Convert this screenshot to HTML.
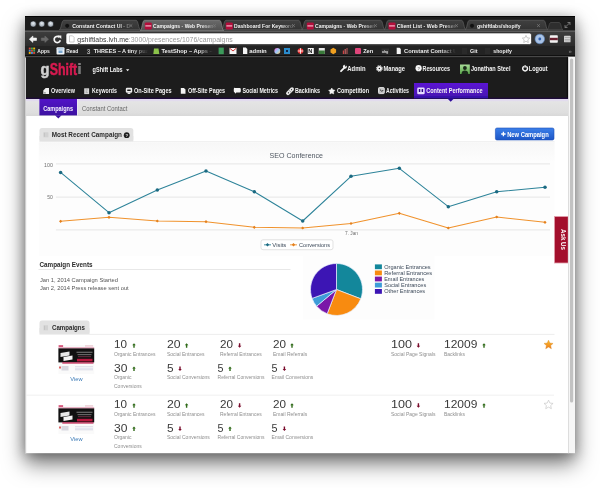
<!DOCTYPE html>
<html><head><meta charset="utf-8">
<style>
*{margin:0;padding:0}
html,body{width:600px;height:488px;overflow:hidden;background:#fff}
#win{position:absolute;left:25px;top:16px;width:550px;height:437.2px;background:#1c1c1c;box-shadow:0 11px 20px rgba(0,0,0,.5),0 2px 12px rgba(0,0,0,.3)}
svg{position:absolute;left:0;top:0;font-family:"Liberation Sans",sans-serif;will-change:transform}
</style></head><body>
<div id="win"></div>
<svg width="600" height="488" viewBox="0 0 600 488">
<defs>
<radialGradient id="tl" cx=".5" cy=".4" r=".6"><stop offset="0" stop-color="#e6ecf2"/><stop offset="1" stop-color="#8e98a4"/></radialGradient>
<linearGradient id="tabA" x1="0" y1="0" x2="0" y2="1"><stop offset="0" stop-color="#6a6a6a"/><stop offset="1" stop-color="#505050"/></linearGradient>
<linearGradient id="tabI" x1="0" y1="0" x2="0" y2="1"><stop offset="0" stop-color="#404040"/><stop offset="1" stop-color="#333"/></linearGradient>
<linearGradient id="toolG" x1="0" y1="0" x2="0" y2="1"><stop offset="0" stop-color="#3e3e3e"/><stop offset="1" stop-color="#2c2c2c"/></linearGradient>
<linearGradient id="purp" x1="0" y1="0" x2="0" y2="1"><stop offset="0" stop-color="#5b14d4"/><stop offset="1" stop-color="#4716b0"/></linearGradient>
<linearGradient id="purp2" x1="0" y1="0" x2="0" y2="1"><stop offset="0" stop-color="#5212c8"/><stop offset="1" stop-color="#3c12a0"/></linearGradient>
<linearGradient id="btn" x1="0" y1="0" x2="0" y2="1"><stop offset="0" stop-color="#3b7fe9"/><stop offset="1" stop-color="#1c55c6"/></linearGradient>
<linearGradient id="av" x1="0" y1="0" x2="0" y2="1"><stop offset="0" stop-color="#a8dc98"/><stop offset="1" stop-color="#5aa64a"/></linearGradient>
<linearGradient id="sg" x1="0" y1="0" x2="0" y2="1"><stop offset="0" stop-color="#fbc02c"/><stop offset="1" stop-color="#ee7a1c"/></linearGradient>
<linearGradient id="rainbow" x1="0" y1="0" x2="1" y2="1"><stop offset="0" stop-color="#f6c"/><stop offset=".5" stop-color="#9cf"/><stop offset="1" stop-color="#fc6"/></linearGradient>
<linearGradient id="subG" x1="0" y1="0" x2="0" y2="1"><stop offset="0" stop-color="#e6e6e6"/><stop offset=".8" stop-color="#dedede"/><stop offset="1" stop-color="#d8d8d8"/></linearGradient>
<linearGradient id="chbg" x1="0" y1="0" x2="0" y2="1"><stop offset="0" stop-color="#f7f7f7"/><stop offset="1" stop-color="#fdfdfd"/></linearGradient>
</defs>
<rect x="25.00" y="16.00" width="550.00" height="15.00" fill="#1c1c1c" />
<rect x="25.00" y="16.00" width="550.00" height="1.00" fill="#050505" />
<circle cx="33.2" cy="24" r="3.1" fill="url(#tl)" stroke="#111" stroke-width=".6"/>
<circle cx="41.8" cy="24" r="3.1" fill="url(#tl)" stroke="#111" stroke-width=".6"/>
<circle cx="50.6" cy="24" r="3.1" fill="url(#tl)" stroke="#111" stroke-width=".6"/>
<path d="M59.3 29.6C61.5 29.6 61.3 20.3 63.8 20.3L136.0 20.3C138.5 20.3 138.3 29.6 140.5 29.6Z" fill="url(#tabI)" stroke="#5e5e5e" stroke-width=".7"/>
<circle cx="67.2" cy="25.8" r="2.4" fill="#111" stroke="#444" stroke-width=".5"/>
<g mask="url(#fade140)">
<text x="72.20" y="28.20" font-size="6.10" fill="#f2f2f2" font-weight="bold" textLength="58.00" lengthAdjust="spacingAndGlyphs">Constant Contact UI - D</text>
</g>
<mask id="fade140" maskUnits="userSpaceOnUse" x="0" y="0" width="600" height="488"><rect x="0" y="0" width="600" height="488" fill="url(#fg140)"/></mask>
<linearGradient id="fg140" gradientUnits="userSpaceOnUse" x1="118.5" y1="0" x2="132.5" y2="0"><stop offset="0" stop-color="#fff"/><stop offset="1" stop-color="#000"/></linearGradient>
<path d="M129.7 24.3l2.6 2.6M132.3 24.3l-2.6 2.6" fill="none" stroke="#777" stroke-width=".9"/>
<path d="M221.5 29.6C223.7 29.6 223.5 20.3 226.0 20.3L298.5 20.3C301.0 20.3 300.8 29.6 303.0 29.6Z" fill="url(#tabI)" stroke="#5e5e5e" stroke-width=".7"/>
<rect x="225.80" y="22.40" width="7.00" height="7.00" fill="#b30f3c" rx="1.2"/>
<rect x="226.40" y="25.30" width="5.80" height="1.20" fill="#f3b7c8" />
<g mask="url(#fade303)">
<text x="234.00" y="28.20" font-size="6.10" fill="#f2f2f2" font-weight="bold" textLength="62.00" lengthAdjust="spacingAndGlyphs">Dashboard For Keywords</text>
</g>
<mask id="fade303" maskUnits="userSpaceOnUse" x="0" y="0" width="600" height="488"><rect x="0" y="0" width="600" height="488" fill="url(#fg303)"/></mask>
<linearGradient id="fg303" gradientUnits="userSpaceOnUse" x1="281.0" y1="0" x2="295.0" y2="0"><stop offset="0" stop-color="#fff"/><stop offset="1" stop-color="#000"/></linearGradient>
<path d="M292.2 24.3l2.6 2.6M294.8 24.3l-2.6 2.6" fill="none" stroke="#777" stroke-width=".9"/>
<path d="M301.5 29.6C303.7 29.6 303.5 20.3 306.0 20.3L380.5 20.3C383.0 20.3 382.8 29.6 385.0 29.6Z" fill="url(#tabI)" stroke="#5e5e5e" stroke-width=".7"/>
<rect x="306.80" y="22.40" width="7.00" height="7.00" fill="#b30f3c" rx="1.2"/>
<rect x="307.40" y="25.30" width="5.80" height="1.20" fill="#f3b7c8" />
<g mask="url(#fade385)">
<text x="315.00" y="28.20" font-size="6.10" fill="#f2f2f2" font-weight="bold" textLength="66.00" lengthAdjust="spacingAndGlyphs">Campaigns - Web Presence</text>
</g>
<mask id="fade385" maskUnits="userSpaceOnUse" x="0" y="0" width="600" height="488"><rect x="0" y="0" width="600" height="488" fill="url(#fg385)"/></mask>
<linearGradient id="fg385" gradientUnits="userSpaceOnUse" x1="363.0" y1="0" x2="377.0" y2="0"><stop offset="0" stop-color="#fff"/><stop offset="1" stop-color="#000"/></linearGradient>
<path d="M374.2 24.3l2.6 2.6M376.8 24.3l-2.6 2.6" fill="none" stroke="#777" stroke-width=".9"/>
<path d="M384.0 29.6C386.2 29.6 386.0 20.3 388.5 20.3L461.5 20.3C464.0 20.3 463.8 29.6 466.0 29.6Z" fill="url(#tabI)" stroke="#5e5e5e" stroke-width=".7"/>
<rect x="388.50" y="22.40" width="7.00" height="7.00" fill="#b30f3c" rx="1.2"/>
<rect x="389.10" y="25.30" width="5.80" height="1.20" fill="#f3b7c8" />
<g mask="url(#fade466)">
<text x="396.70" y="28.20" font-size="6.10" fill="#f2f2f2" font-weight="bold" textLength="66.00" lengthAdjust="spacingAndGlyphs">Client List - Web Presence</text>
</g>
<mask id="fade466" maskUnits="userSpaceOnUse" x="0" y="0" width="600" height="488"><rect x="0" y="0" width="600" height="488" fill="url(#fg466)"/></mask>
<linearGradient id="fg466" gradientUnits="userSpaceOnUse" x1="444.0" y1="0" x2="458.0" y2="0"><stop offset="0" stop-color="#fff"/><stop offset="1" stop-color="#000"/></linearGradient>
<path d="M455.2 24.3l2.6 2.6M457.8 24.3l-2.6 2.6" fill="none" stroke="#777" stroke-width=".9"/>
<path d="M465.0 29.6C467.2 29.6 467.0 20.3 469.5 20.3L543.5 20.3C546.0 20.3 545.8 29.6 548.0 29.6Z" fill="url(#tabI)" stroke="#5e5e5e" stroke-width=".7"/>
<circle cx="472.0" cy="25.8" r="2.4" fill="#111" stroke="#444" stroke-width=".5"/>
<g mask="url(#fade548)">
<text x="477.00" y="28.20" font-size="6.10" fill="#f2f2f2" font-weight="bold" textLength="43.50" lengthAdjust="spacingAndGlyphs">gshiftlabs/shopify</text>
</g>
<mask id="fade548" maskUnits="userSpaceOnUse" x="0" y="0" width="600" height="488"><rect x="0" y="0" width="600" height="488" fill="url(#fg548)"/></mask>
<linearGradient id="fg548" gradientUnits="userSpaceOnUse" x1="526.0" y1="0" x2="540.0" y2="0"><stop offset="0" stop-color="#fff"/><stop offset="1" stop-color="#000"/></linearGradient>
<path d="M537.2 24.3l2.6 2.6M539.8 24.3l-2.6 2.6" fill="none" stroke="#777" stroke-width=".9"/>
<path d="M140.0 31.0C142.2 31.0 142.0 20.3 144.5 20.3L219.5 20.3C222.0 20.3 221.8 31.0 224.0 31.0Z" fill="url(#tabA)" stroke="#8a8a8a" stroke-width=".7"/>
<rect x="144.80" y="22.40" width="7.00" height="7.00" fill="#b30f3c" rx="1.2"/>
<rect x="145.40" y="25.30" width="5.80" height="1.20" fill="#f3b7c8" />
<g mask="url(#fade224)">
<text x="153.00" y="28.20" font-size="6.10" fill="#f2f2f2" font-weight="bold" textLength="66.00" lengthAdjust="spacingAndGlyphs">Campaigns - Web Presence</text>
</g>
<mask id="fade224" maskUnits="userSpaceOnUse" x="0" y="0" width="600" height="488"><rect x="0" y="0" width="600" height="488" fill="url(#fg224)"/></mask>
<linearGradient id="fg224" gradientUnits="userSpaceOnUse" x1="202.0" y1="0" x2="216.0" y2="0"><stop offset="0" stop-color="#fff"/><stop offset="1" stop-color="#000"/></linearGradient>
<path d="M213.2 24.3l2.6 2.6M215.8 24.3l-2.6 2.6" fill="none" stroke="#777" stroke-width=".9"/>
<path d="M547 29.6C549 29.6 548.5 22.5 551 22.5L559 22.5C561.5 22.5 561 29.6 563 29.6Z" fill="#2e2e2e" stroke="#555" stroke-width=".6"/>
<path d="M565 27.5l5-5M567.5 22.5h2.5v2.5M565 25v2.5h2.5" fill="none" stroke="#888" stroke-width=".8"/>
<rect x="25.00" y="31.00" width="550.00" height="15.00" fill="url(#toolG)" />
<rect x="25.00" y="30.60" width="550.00" height="0.90" fill="#7a7a7a" />
<path d="M29.3 39.2l3.6-3.2v2h3.6v2.4h-3.6v2z" fill="#f4f4f4" stroke="#f4f4f4" stroke-width=".6" stroke-linejoin="round"/>
<path d="M48.5 39.2l-3.6-3.2v2h-3.6v2.4h3.6v2z" fill="#6a6a6a" stroke="#6a6a6a" stroke-width=".6" stroke-linejoin="round"/>
<path d="M59.6 37.4A3.1 3.1 0 1 0 60.3 40.2" fill="none" stroke="#f4f4f4" stroke-width="1.7"/>
<path d="M57.8 35.6h3.5v3.5z" fill="#f4f4f4" />
<rect x="66.00" y="33.00" width="465.50" height="11.50" fill="#fff" rx="2" stroke="#222" stroke-width=".6"/>
<path d="M69.5 35.8h3l1.6 1.6v4.6h-4.6z" fill="#fff" stroke="#aaa" stroke-width=".6"/>
<text x="77.30" y="41.60" font-size="7.20" fill="#3a3a3a" textLength="155.40" lengthAdjust="spacingAndGlyphs">gshiftlabs.lvh.me<tspan fill="#9a9a9a">:3000/presences/1076/campaigns</tspan></text>
<path d="M526 35.4l1.1 2.4 2.6.3-1.9 1.8.5 2.6-2.3-1.3-2.3 1.3.5-2.6-1.9-1.8 2.6-.3z" fill="none" stroke="#aaa" stroke-width=".6"/>
<circle cx="539.8" cy="39" r="4.8" fill="#a9c3e6" stroke="#577fb8" stroke-width=".6"/>
<circle cx="539.8" cy="39" r="1.4" fill="#2f5fb0"/>
<rect x="549.80" y="35.20" width="8.00" height="7.60" fill="#f2f2f2" rx=".8"/>
<rect x="549.80" y="37.80" width="8.00" height="2.40" fill="#6a2030" />
<rect x="564.00" y="35.70" width="6.50" height="6.60" fill="#d4d4d4" rx=".6"/>
<rect x="564.60" y="37.30" width="5.30" height="0.50" fill="#888" />
<rect x="564.60" y="39.00" width="5.30" height="0.50" fill="#888" />
<rect x="564.60" y="40.70" width="5.30" height="0.50" fill="#888" />
<rect x="25.00" y="46.00" width="550.00" height="9.40" fill="#232323" />
<rect x="28.80" y="47.60" width="1.90" height="1.90" fill="#d84a38" />
<rect x="28.80" y="49.80" width="1.90" height="1.90" fill="#4a8fd8" />
<rect x="28.80" y="52.00" width="1.90" height="1.90" fill="#f5b400" />
<rect x="31.00" y="47.60" width="1.90" height="1.90" fill="#3aa757" />
<rect x="31.00" y="49.80" width="1.90" height="1.90" fill="#d84a38" />
<rect x="31.00" y="52.00" width="1.90" height="1.90" fill="#4a8fd8" />
<rect x="33.20" y="47.60" width="1.90" height="1.90" fill="#f5b400" />
<rect x="33.20" y="49.80" width="1.90" height="1.90" fill="#3aa757" />
<rect x="33.20" y="52.00" width="1.90" height="1.90" fill="#d84a38" />
<text x="37.30" y="53.30" font-size="6.00" fill="#eee" font-weight="bold" textLength="12.40" lengthAdjust="spacingAndGlyphs">Apps</text>
<rect x="56.50" y="47.30" width="8.00" height="7.20" fill="#eef3f8" rx="1"/>
<rect x="57.50" y="48.30" width="6.00" height="1.20" fill="#9ac0e0" />
<rect x="58.50" y="50.50" width="4.00" height="2.50" fill="#7aa8d0" />
<text x="66.30" y="53.30" font-size="6.00" fill="#eee" font-weight="bold" textLength="12.00" lengthAdjust="spacingAndGlyphs">Read</text>
<text x="86.80" y="53.60" font-size="6.50" fill="#aaa" font-weight="bold">3</text>
<g mask="url(#bmf1)">
<text x="93.70" y="53.30" font-size="6.00" fill="#eee" font-weight="bold" textLength="62.00" lengthAdjust="spacingAndGlyphs">THREES – A tiny puzzle</text>
</g>
<mask id="bmf1" maskUnits="userSpaceOnUse" x="0" y="0" width="600" height="488"><rect width="600" height="488" fill="url(#bmg1)"/></mask><linearGradient id="bmg1" gradientUnits="userSpaceOnUse" x1="132" x2="148" y1="0" y2="0"><stop offset="0" stop-color="#fff"/><stop offset="1" stop-color="#000"/></linearGradient>
<path d="M154 48.5h4.5l.8 5.5h-6z" fill="#8bc34a" />
<g mask="url(#bmf2)">
<text x="161.50" y="53.30" font-size="6.00" fill="#eee" font-weight="bold" textLength="74.00" lengthAdjust="spacingAndGlyphs">TestShop – Apps – Shopify</text>
</g>
<mask id="bmf2" maskUnits="userSpaceOnUse" x="0" y="0" width="600" height="488"><rect width="600" height="488" fill="url(#bmg2)"/></mask><linearGradient id="bmg2" gradientUnits="userSpaceOnUse" x1="198" x2="213" y1="0" y2="0"><stop offset="0" stop-color="#fff"/><stop offset="1" stop-color="#000"/></linearGradient>
<rect x="218.60" y="47.60" width="5.20" height="6.60" fill="#3c9a5a" />
<rect x="229.50" y="48.00" width="7.00" height="6.00" fill="#f4f4f4" />
<path d="M229.5 48l3.5 3 3.5-3" fill="none" stroke="#c33" stroke-width="1"/>
<path d="M243 47.6h2.8l1.5 1.5v5h-4.3z" fill="#f4f4f4" />
<text x="249.30" y="53.30" font-size="6.00" fill="#eee" font-weight="bold" textLength="17.40" lengthAdjust="spacingAndGlyphs">admin</text>
<circle cx="277.3" cy="51" r="3" fill="url(#rainbow)"/>
<rect x="284.00" y="48.00" width="6.00" height="6.00" fill="#2a8ccc" />
<rect x="286.00" y="50.00" width="2.00" height="2.00" fill="#124" />
<circle cx="300.5" cy="51" r="2.8" fill="#e33" /><path d="M297.7 51h5.6M300.5 48.2v5.6" stroke="#fff" stroke-width=".8"/>
<rect x="307.80" y="48.00" width="6.00" height="6.00" fill="#f4f4f4" />
<text x="308.30" y="53.20" font-size="5.60" fill="#111" font-weight="bold">N</text>
<rect x="318.80" y="48.00" width="6.00" height="6.00" fill="#e8e8e8" />
<rect x="318.80" y="50.50" width="6.00" height="3.50" fill="#3a7a3a" />
<path d="M333.3 47.8l2.8 1.6v3.2l-2.8 1.6-2.8-1.6v-3.2z" fill="#f0a020" />
<rect x="342.80" y="50.50" width="1.20" height="3.50" fill="#c44" />
<rect x="344.60" y="49.00" width="1.20" height="5.00" fill="#c66" />
<rect x="346.40" y="48.00" width="1.20" height="6.00" fill="#a55" />
<rect x="355.00" y="48.00" width="6.00" height="6.00" fill="#e0457a" rx="1"/>
<text x="363.20" y="53.30" font-size="6.00" fill="#eee" font-weight="bold" textLength="10.00" lengthAdjust="spacingAndGlyphs">Zen</text>
<rect x="381.50" y="48.50" width="7.50" height="5.00" fill="#333" />
<text x="382.00" y="52.60" font-size="3.50" fill="#ddd" font-weight="bold">ahg</text>
<path d="M396.7 47.8h2.8l1.3 1.3v5h-4.1z" fill="#f4f4f4" />
<g mask="url(#bmf3)">
<text x="404.00" y="53.30" font-size="6.00" fill="#eee" font-weight="bold" textLength="55.00" lengthAdjust="spacingAndGlyphs">Constant Contact UI</text>
</g>
<mask id="bmf3" maskUnits="userSpaceOnUse" x="0" y="0" width="600" height="488"><rect width="600" height="488" fill="url(#bmg3)"/></mask><linearGradient id="bmg3" gradientUnits="userSpaceOnUse" x1="440" x2="456" y1="0" y2="0"><stop offset="0" stop-color="#fff"/><stop offset="1" stop-color="#000"/></linearGradient>
<rect x="462.00" y="48.00" width="5.00" height="6.00" fill="#2a2a2a" />
<text x="470.00" y="53.30" font-size="6.00" fill="#eee" font-weight="bold" textLength="7.50" lengthAdjust="spacingAndGlyphs">Git</text>
<rect x="485.00" y="48.00" width="5.00" height="6.00" fill="#2a2a2a" />
<text x="493.30" y="53.30" font-size="6.00" fill="#eee" font-weight="bold" textLength="18.50" lengthAdjust="spacingAndGlyphs">shopify</text>
<text x="568.50" y="53.00" font-size="6.00" fill="#777" font-weight="bold">»</text>
<rect x="25.00" y="56.80" width="543.50" height="396.40" fill="#fff" />
<rect x="25.00" y="56.80" width="1.20" height="396.40" fill="#cfcfcf" />
<rect x="26.00" y="57.00" width="542.50" height="41.50" fill="#1c1c1c" />
<rect x="25.00" y="55.20" width="550.00" height="0.90" fill="#0e0e0e" />
<rect x="25.00" y="56.10" width="550.00" height="1.40" fill="#4a4a4a" />
<rect x="26.00" y="57.50" width="542.50" height="0.60" fill="#0e0e0e" />
<rect x="566.80" y="57.50" width="1.60" height="40.50" fill="#0c0c0c" />
<rect x="26.00" y="97.60" width="542.50" height="1.50" fill="#1e0c3a" />
<text x="40.50" y="74.70" font-size="15.80" fill="#d0d0d0" font-weight="bold" textLength="9.00" lengthAdjust="spacingAndGlyphs" stroke="#d0d0d0" stroke-width=".5">g</text>
<text x="49.70" y="74.70" font-size="15.80" fill="#d81a50" font-weight="bold" textLength="27.50" lengthAdjust="spacingAndGlyphs" stroke="#d81a50" stroke-width=".5">Shift</text>
<rect x="78.20" y="63.20" width="2.60" height="1.60" fill="#999" />
<rect x="78.20" y="66.00" width="2.60" height="8.00" fill="#777" />
<text x="92.60" y="72.40" font-size="6.60" fill="#f4f4f4" font-weight="bold" textLength="30.00" lengthAdjust="spacingAndGlyphs">gShift Labs</text>
<path d="M126 69.2h3.3l-1.65 2z" fill="#f4f4f4" />
<path d="M341 71.2L344 68.2" fill="none" stroke="#f4f4f4" stroke-width="1.8" stroke-linecap="round"/>
<circle cx="344.9" cy="66.8" r="2" fill="#f4f4f4"/>
<rect x="345.3" y="64" width="1.3" height="2.6" fill="#1c1c1c" transform="rotate(45 345.95 65.3)"/>
<text x="347.30" y="71.00" font-size="6.60" fill="#f4f4f4" font-weight="bold" textLength="18.30" lengthAdjust="spacingAndGlyphs">Admin</text>
<circle cx="379.4" cy="68.5" r="2.5" fill="#f4f4f4"/>
<circle cx="379.4" cy="68.5" r="3" fill="none" stroke="#f4f4f4" stroke-width="1" stroke-dasharray="1.2 1.15"/>
<circle cx="379.4" cy="68.5" r=".75" fill="#1c1c1c"/>
<text x="383.50" y="71.00" font-size="6.60" fill="#f4f4f4" font-weight="bold" textLength="21.50" lengthAdjust="spacingAndGlyphs">Manage</text>
<circle cx="418.6" cy="68.2" r="3.1" fill="#f4f4f4"/>
<text x="417.50" y="70.00" font-size="4.20" fill="#777" font-weight="bold">?</text>
<text x="422.50" y="71.00" font-size="6.60" fill="#f4f4f4" font-weight="bold" textLength="27.50" lengthAdjust="spacingAndGlyphs">Resources</text>
<rect x="460.00" y="64.50" width="9.80" height="9.50" fill="url(#av)" />
<circle cx="464.9" cy="68" r="1.9" fill="#1a2a1a"/>
<path d="M461.5 74c0-2.5 1.5-3.6 3.4-3.6s3.4 1.1 3.4 3.6z" fill="#1a2a1a" />
<text x="471.00" y="71.00" font-size="6.60" fill="#f4f4f4" font-weight="bold" textLength="39.50" lengthAdjust="spacingAndGlyphs">Jonathan Steel</text>
<path d="M523.9 66.4a2.4 2.4 0 1 0 2.4 0M525.1 65.2v2.4" fill="none" stroke="#f4f4f4" stroke-width="1.5"/>
<text x="528.80" y="71.00" font-size="6.60" fill="#f4f4f4" font-weight="bold" textLength="18.70" lengthAdjust="spacingAndGlyphs">Logout</text>
<rect x="414.00" y="83.00" width="74.00" height="15.00" fill="url(#purp)" />
<rect x="414.00" y="96.20" width="74.00" height="2.20" fill="#3410a8" />
<path d="M43.3 90.4L45.7 87.9H49V94H43.3Z" fill="#f0f0f0" />
<rect x="44.00" y="92.20" width="1.80" height="1.40" fill="#9a9a9a" />
<text x="51.00" y="93.30" font-size="6.30" fill="#f4f4f4" font-weight="bold" textLength="24.00" lengthAdjust="spacingAndGlyphs">Overview</text>
<rect x="84.20" y="88.30" width="4.90" height="5.80" fill="#d8d8d8" />
<path d="M85.6 89.8h2.2M85.6 91.2h1.6M85.6 92.6h2.2" fill="none" stroke="#8a8a8a" stroke-width=".6"/>
<text x="92.00" y="93.30" font-size="6.30" fill="#f4f4f4" font-weight="bold" textLength="24.80" lengthAdjust="spacingAndGlyphs">Keywords</text>
<rect x="125.80" y="87.80" width="6.40" height="4.90" fill="#ececec" rx="1.3"/>
<rect x="127.10" y="89.60" width="3.80" height="1.30" fill="#1c1c1c" rx=".6"/>
<path d="M128 92.5h2l.6 1.5h-3.2z" fill="#e0e0e0" />
<text x="134.00" y="93.30" font-size="6.30" fill="#f4f4f4" font-weight="bold" textLength="37.60" lengthAdjust="spacingAndGlyphs">On-Site Pages</text>
<path d="M180.8 87.9h3.1l1.6 1.6v4.2h-4.7z" fill="#f4f4f4" />
<text x="188.00" y="93.30" font-size="6.30" fill="#f4f4f4" font-weight="bold" textLength="37.00" lengthAdjust="spacingAndGlyphs">Off-Site Pages</text>
<path d="M235.2 87.9h4.4a1.2 1.2 0 0 1 1.2 1.2v2.2a1.2 1.2 0 0 1-1.2 1.2h-3.2l-1.4 1.2v-1.2a1.2 1.2 0 0 1-1.2-1.2v-2.2a1.2 1.2 0 0 1 1.4-1.2z" fill="#f4f4f4" />
<text x="242.40" y="93.30" font-size="6.30" fill="#f4f4f4" font-weight="bold" textLength="35.60" lengthAdjust="spacingAndGlyphs">Social Metrics</text>
<g transform="rotate(-45 290 91.2)"><rect x="285.2" y="89.3" width="9.6" height="3.8" rx="1.9" fill="#e8e8e8"/><circle cx="287.8" cy="91.2" r=".6" fill="#333"/><circle cx="292.2" cy="91.2" r=".6" fill="#333"/><rect x="289.8" y="89.3" width=".5" height="3.8" fill="#888"/></g>
<text x="295.00" y="93.30" font-size="6.30" fill="#f4f4f4" font-weight="bold" textLength="25.00" lengthAdjust="spacingAndGlyphs">Backlinks</text>
<path d="M331.80 88.00L332.87 89.83L334.94 90.28L333.53 91.86L333.74 93.97L331.80 93.11L329.86 93.97L330.07 91.86L328.66 90.28L330.73 89.83Z" fill="#f4f4f4" stroke="#f4f4f4" stroke-width=".5" stroke-linejoin="round"/>
<text x="337.00" y="93.30" font-size="6.30" fill="#f4f4f4" font-weight="bold" textLength="32.00" lengthAdjust="spacingAndGlyphs">Competition</text>
<rect x="378.50" y="87.60" width="5.80" height="6.00" fill="#c4c4c4" rx=".9" stroke="#ececec" stroke-width=".9"/>
<path d="M379.9 89.5l1.6 1.6 1.8-.6" fill="none" stroke="#222" stroke-width=".9"/>
<text x="386.00" y="93.30" font-size="6.30" fill="#f4f4f4" font-weight="bold" textLength="23.00" lengthAdjust="spacingAndGlyphs">Activities</text>
<rect x="417.20" y="87.60" width="7.50" height="6.60" fill="#e6dcff" rx="1.3"/>
<rect x="418.80" y="88.90" width="1.50" height="3.00" fill="#2a0880" rx=".5"/>
<rect x="421.60" y="88.90" width="1.50" height="3.00" fill="#2a0880" rx=".5"/>
<text x="426.20" y="93.30" font-size="6.30" fill="#f4f4f4" font-weight="bold" textLength="56.50" lengthAdjust="spacingAndGlyphs">Content Performance</text>
<rect x="26.00" y="99.00" width="542.50" height="17.00" fill="url(#subG)" />
<rect x="26.00" y="99.00" width="542.50" height="2.20" fill="#e2dbee" />
<rect x="39.40" y="99.00" width="37.60" height="16.40" fill="url(#purp2)" />
<rect x="77.00" y="99.00" width="0.80" height="16.40" fill="#efe8f8" />
<path d="M55 115.3l3.3 3.3 3.3-3.3z" fill="#3c12a0" />
<path d="M447.2 98.2l3.5 3.6 3.5-3.6z" fill="#2c0a98" />
<text x="43.20" y="110.80" font-size="6.80" fill="#f4f0ff" font-weight="bold" textLength="29.80" lengthAdjust="spacingAndGlyphs">Campaigns</text>
<text x="82.00" y="110.80" font-size="6.50" fill="#666" textLength="45.30" lengthAdjust="spacingAndGlyphs">Constant Contact</text>
<rect x="39.50" y="128.10" width="93.80" height="13.50" fill="#e2e2e2" rx="2.5"/>
<rect x="39.50" y="136.00" width="93.80" height="5.60" fill="#e2e2e2" />
<rect x="43.40" y="132.30" width="5.00" height="5.00" fill="#d2d2d2" />
<rect x="43.90" y="132.80" width="1.00" height="4.00" fill="#c4c4c4" />
<text x="51.75" y="137.00" font-size="6.30" fill="#2a2a2a" font-weight="bold" textLength="70.20" lengthAdjust="spacingAndGlyphs">Most Recent Campaign</text>
<circle cx="126.7" cy="135.2" r="2.9" fill="#1e1e1e"/>
<text x="125.50" y="137.00" font-size="4.40" fill="#e2e2e2" font-weight="bold">?</text>
<rect x="39.50" y="141.30" width="515.00" height="0.90" fill="#ececec" />
<rect x="38.80" y="142.20" width="515.70" height="113.60" fill="#fdfdfd" />
<rect x="38.80" y="142.20" width="515.70" height="20.00" fill="url(#chbg)" />
<rect x="495.40" y="128.00" width="58.60" height="12.00" fill="url(#btn)" rx="1.6" stroke="#1b4db5" stroke-width=".6"/>
<path d="M501.2 134h4.4M503.4 131.8v4.4" fill="none" stroke="#fff" stroke-width="1.3"/>
<text x="507.20" y="136.50" font-size="6.40" fill="#fff" font-weight="bold" textLength="41.50" lengthAdjust="spacingAndGlyphs">New Campaign</text>
<text x="269.50" y="157.50" font-size="7.40" fill="#4e5660" textLength="53.50" lengthAdjust="spacingAndGlyphs">SEO Conference</text>
<rect x="55.90" y="163.40" width="494.10" height="1.00" fill="#e6e6e6" />
<rect x="55.90" y="196.60" width="494.10" height="1.00" fill="#e6e6e6" />
<rect x="55.90" y="229.40" width="494.10" height="1.00" fill="#e6e6e6" />
<rect x="350.60" y="229.90" width="0.80" height="2.80" fill="#e0e0e0" />
<text x="44.10" y="166.90" font-size="5.10" fill="#707070" textLength="8.80" lengthAdjust="spacingAndGlyphs">100</text>
<text x="47.30" y="199.10" font-size="5.10" fill="#707070" textLength="5.60" lengthAdjust="spacingAndGlyphs">50</text>
<text x="345.00" y="235.00" font-size="5.10" fill="#707070" textLength="13.00" lengthAdjust="spacingAndGlyphs">7. Jan</text>
<polyline fill="none" stroke="#2d8399" stroke-width="1.05" stroke-linejoin="round" points="60.6,172.4 109.0,212.7 157.3,190.0 206.0,171.0 254.3,191.7 302.7,221.0 351.0,176.3 399.3,168.3 448.3,206.7 496.7,191.7 545.0,187.3"/>
<polyline fill="none" stroke="#f0922c" stroke-width="1.05" stroke-linejoin="round" points="60.6,221.3 109.0,217.3 157.3,221.0 206.0,221.7 254.3,227.3 302.7,228.0 351.0,223.5 399.3,213.3 448.3,228.0 496.7,217.0 545.0,222.3"/>
<circle cx="60.6" cy="172.4" r="1.75" fill="#1b6a82"/>
<circle cx="109.0" cy="212.7" r="1.75" fill="#1b6a82"/>
<circle cx="157.3" cy="190.0" r="1.75" fill="#1b6a82"/>
<circle cx="206.0" cy="171.0" r="1.75" fill="#1b6a82"/>
<circle cx="254.3" cy="191.7" r="1.75" fill="#1b6a82"/>
<circle cx="302.7" cy="221.0" r="1.75" fill="#1b6a82"/>
<circle cx="351.0" cy="176.3" r="1.75" fill="#1b6a82"/>
<circle cx="399.3" cy="168.3" r="1.75" fill="#1b6a82"/>
<circle cx="448.3" cy="206.7" r="1.75" fill="#1b6a82"/>
<circle cx="496.7" cy="191.7" r="1.75" fill="#1b6a82"/>
<circle cx="545.0" cy="187.3" r="1.75" fill="#1b6a82"/>
<path d="M60.6 219.7l1.6 1.6-1.6 1.6-1.6-1.6z" fill="#e5801c" />
<path d="M109.0 215.7l1.6 1.6-1.6 1.6-1.6-1.6z" fill="#e5801c" />
<path d="M157.3 219.4l1.6 1.6-1.6 1.6-1.6-1.6z" fill="#e5801c" />
<path d="M206.0 220.1l1.6 1.6-1.6 1.6-1.6-1.6z" fill="#e5801c" />
<path d="M254.3 225.7l1.6 1.6-1.6 1.6-1.6-1.6z" fill="#e5801c" />
<path d="M302.7 226.4l1.6 1.6-1.6 1.6-1.6-1.6z" fill="#e5801c" />
<path d="M351.0 221.9l1.6 1.6-1.6 1.6-1.6-1.6z" fill="#e5801c" />
<path d="M399.3 211.7l1.6 1.6-1.6 1.6-1.6-1.6z" fill="#e5801c" />
<path d="M448.3 226.4l1.6 1.6-1.6 1.6-1.6-1.6z" fill="#e5801c" />
<path d="M496.7 215.4l1.6 1.6-1.6 1.6-1.6-1.6z" fill="#e5801c" />
<path d="M545.0 220.7l1.6 1.6-1.6 1.6-1.6-1.6z" fill="#e5801c" />
<rect x="261.00" y="239.80" width="72.00" height="9.90" fill="#fff" rx="2" stroke="#d6d6d6" stroke-width=".7"/>
<rect x="264.00" y="244.40" width="7.00" height="0.90" fill="#2d8399" />
<path d="M267.5 243.1l1.7 1.75-1.7 1.75-1.7-1.75z" fill="#1b6a82" />
<rect x="290.00" y="244.40" width="7.00" height="0.90" fill="#f0922c" />
<path d="M293.5 243.1l1.7 1.75-1.7 1.75-1.7-1.75z" fill="#e5801c" />
<text x="272.30" y="247.10" font-size="6.00" fill="#3d4a5a" textLength="14.00" lengthAdjust="spacingAndGlyphs">Visits</text>
<text x="299.00" y="247.10" font-size="6.00" fill="#3d4a5a" textLength="31.00" lengthAdjust="spacingAndGlyphs">Conversions</text>
<text x="39.50" y="266.80" font-size="6.30" fill="#2a2a2a" font-weight="bold" textLength="53.00" lengthAdjust="spacingAndGlyphs">Campaign Events</text>
<rect x="38.50" y="269.10" width="252.00" height="0.90" fill="#e6e6e6" />
<text x="40.00" y="281.50" font-size="5.70" fill="#555" textLength="77.90" lengthAdjust="spacingAndGlyphs">Jan 1, 2014 Campaign Started</text>
<text x="40.00" y="290.20" font-size="5.70" fill="#555" textLength="88.70" lengthAdjust="spacingAndGlyphs">Jan 2, 2014 Press release sent out</text>
<rect x="302.70" y="254.00" width="131.70" height="65.40" fill="#fdfdfd" />
<path d="M336.50 289.50L336.50 263.50A26.0 26.0 0 0 1 360.77 298.82Z" fill="#13879b" stroke="#e8f0ff" stroke-width=".7" stroke-linejoin="round"/>
<path d="M336.50 289.50L360.77 298.82A26.0 26.0 0 0 1 327.18 313.77Z" fill="#f88b10" stroke="#e8f0ff" stroke-width=".7" stroke-linejoin="round"/>
<path d="M336.50 289.50L327.18 313.77A26.0 26.0 0 0 1 316.58 306.21Z" fill="#7a17a8" stroke="#e8f0ff" stroke-width=".7" stroke-linejoin="round"/>
<path d="M336.50 289.50L316.58 306.21A26.0 26.0 0 0 1 312.07 298.39Z" fill="#3d9cd8" stroke="#e8f0ff" stroke-width=".7" stroke-linejoin="round"/>
<path d="M336.50 289.50L312.07 298.39A26.0 26.0 0 0 1 336.50 263.50Z" fill="#3c15b4" stroke="#e8f0ff" stroke-width=".7" stroke-linejoin="round"/>
<rect x="374.90" y="264.40" width="7.00" height="4.80" fill="#13879b" />
<text x="384.20" y="268.80" font-size="5.90" fill="#3d4a5a" textLength="46.50" lengthAdjust="spacingAndGlyphs">Organic Entrances</text>
<rect x="374.90" y="270.50" width="7.00" height="4.80" fill="#f88b10" />
<text x="384.20" y="274.90" font-size="5.90" fill="#3d4a5a" textLength="48.00" lengthAdjust="spacingAndGlyphs">Referral Entrances</text>
<rect x="374.90" y="276.60" width="7.00" height="4.80" fill="#7a17a8" />
<text x="384.20" y="281.00" font-size="5.90" fill="#3d4a5a" textLength="40.00" lengthAdjust="spacingAndGlyphs">Email Entrances</text>
<rect x="374.90" y="282.70" width="7.00" height="4.80" fill="#3d9cd8" />
<text x="384.20" y="287.10" font-size="5.90" fill="#3d4a5a" textLength="42.00" lengthAdjust="spacingAndGlyphs">Social Entrances</text>
<rect x="374.90" y="289.00" width="7.00" height="4.80" fill="#3c15b4" />
<text x="384.20" y="293.40" font-size="5.90" fill="#3d4a5a" textLength="41.00" lengthAdjust="spacingAndGlyphs">Other Entrances</text>
<rect x="39.50" y="320.50" width="50.00" height="13.60" fill="#e2e2e2" rx="2.5"/>
<rect x="39.50" y="328.00" width="50.00" height="6.10" fill="#e2e2e2" />
<rect x="43.50" y="325.30" width="4.50" height="5.00" fill="#d2d2d2" />
<rect x="44.00" y="325.80" width="1.00" height="4.00" fill="#c4c4c4" />
<text x="52.00" y="329.80" font-size="6.30" fill="#2a2a2a" font-weight="bold" textLength="33.00" lengthAdjust="spacingAndGlyphs">Campaigns</text>
<rect x="39.50" y="333.90" width="515.00" height="0.90" fill="#ececec" />
<rect x="26.00" y="394.70" width="528.00" height="0.90" fill="#eeeeee" />
<rect x="554.40" y="216.50" width="13.80" height="46.50" fill="#a30f2c" stroke="#e3a0ad" stroke-width=".8"/>
<text x="0.00" y="0.00" font-size="6.80" fill="#fff" font-weight="bold" textLength="21.00" lengthAdjust="spacingAndGlyphs" transform="translate(560.6 229) rotate(90)">Ask Us</text>
<text x="114.00" y="348.30" font-size="11.50" fill="#3a3a3a" textLength="13.00" lengthAdjust="spacingAndGlyphs">10</text>
<path d="M134.00 343.20l1.8 2.1h-1.1v2.5h-1.4v-2.5h-1.1z" fill="#2f6a18" />
<text x="114.00" y="355.80" font-size="5.00" fill="#8e8e8e">Organic Entrances</text>
<text x="167.00" y="348.30" font-size="11.50" fill="#3a3a3a" textLength="13.60" lengthAdjust="spacingAndGlyphs">20</text>
<path d="M186.60 343.20l1.8 2.1h-1.1v2.5h-1.4v-2.5h-1.1z" fill="#2f6a18" />
<text x="167.00" y="355.80" font-size="5.00" fill="#8e8e8e">Social Entrances</text>
<text x="220.00" y="348.30" font-size="11.50" fill="#3a3a3a" textLength="13.00" lengthAdjust="spacingAndGlyphs">20</text>
<path d="M239.60 347.80l1.8-2.1h-1.1v-2.5h-1.4v2.5h-1.1z" fill="#7a0c2c" />
<text x="220.00" y="355.80" font-size="5.00" fill="#8e8e8e">Referral Entrances</text>
<text x="273.00" y="348.30" font-size="11.50" fill="#3a3a3a" textLength="13.00" lengthAdjust="spacingAndGlyphs">20</text>
<path d="M292.00 343.20l1.8 2.1h-1.1v2.5h-1.4v-2.5h-1.1z" fill="#2f6a18" />
<text x="273.00" y="355.80" font-size="5.00" fill="#8e8e8e">Email Referrals</text>
<text x="391.00" y="348.30" font-size="11.50" fill="#3a3a3a" textLength="21.00" lengthAdjust="spacingAndGlyphs">100</text>
<path d="M418.40 347.80l1.8-2.1h-1.1v-2.5h-1.4v2.5h-1.1z" fill="#7a0c2c" />
<text x="391.00" y="355.80" font-size="5.00" fill="#8e8e8e">Social Page Signals</text>
<text x="444.00" y="348.30" font-size="11.50" fill="#3a3a3a" textLength="33.40" lengthAdjust="spacingAndGlyphs">12009</text>
<path d="M484.00 343.20l1.8 2.1h-1.1v2.5h-1.4v-2.5h-1.1z" fill="#2f6a18" />
<text x="444.00" y="355.80" font-size="5.00" fill="#8e8e8e">Backlinks</text>
<text x="114.00" y="371.50" font-size="11.50" fill="#3a3a3a" textLength="13.40" lengthAdjust="spacingAndGlyphs">30</text>
<path d="M134.00 366.40l1.8 2.1h-1.1v2.5h-1.4v-2.5h-1.1z" fill="#2f6a18" />
<text x="114.00" y="379.00" font-size="5.00" fill="#8e8e8e">Organic</text>
<text x="114.00" y="388.00" font-size="5.00" fill="#8e8e8e">Conversions</text>
<text x="167.00" y="371.50" font-size="11.50" fill="#3a3a3a" textLength="6.60" lengthAdjust="spacingAndGlyphs">5</text>
<path d="M180.00 371.00l1.8-2.1h-1.1v-2.5h-1.4v2.5h-1.1z" fill="#7a0c2c" />
<text x="167.00" y="379.00" font-size="5.00" fill="#8e8e8e">Social Conversions</text>
<text x="217.60" y="371.50" font-size="11.50" fill="#3a3a3a" textLength="6.00" lengthAdjust="spacingAndGlyphs">5</text>
<path d="M230.00 366.40l1.8 2.1h-1.1v2.5h-1.4v-2.5h-1.1z" fill="#2f6a18" />
<text x="217.60" y="379.00" font-size="5.00" fill="#8e8e8e">Referral Conversions</text>
<text x="271.60" y="371.50" font-size="11.50" fill="#3a3a3a" textLength="6.00" lengthAdjust="spacingAndGlyphs">5</text>
<path d="M284.40 371.00l1.8-2.1h-1.1v-2.5h-1.4v2.5h-1.1z" fill="#7a0c2c" />
<text x="271.60" y="379.00" font-size="5.00" fill="#8e8e8e">Email Conversions</text>
<rect x="58.40" y="345.00" width="35.80" height="29.00" fill="#fafafa" />
<rect x="58.60" y="345.40" width="4.50" height="1.30" fill="#c8184a" />
<rect x="85.00" y="345.60" width="8.00" height="0.70" fill="#e0a0b0" />
<rect x="58.40" y="347.60" width="35.80" height="0.80" fill="#d04a78" />
<rect x="58.40" y="348.40" width="35.80" height="14.00" fill="#111" />
<rect x="62.30" y="362.30" width="31.20" height="1.30" fill="#c42454" />
<path d="M60.5 353.0l9-1.5v4l-9 1.5z" fill="#e8e8e8" />
<path d="M63.5 357.0l9-1.5v4l-9 1.5z" fill="#f4f4f4" />
<rect x="76.50" y="351.80" width="16.00" height="0.80" fill="#999" />
<rect x="77.50" y="354.30" width="14.00" height="0.80" fill="#888" />
<rect x="78.00" y="356.50" width="13.00" height="0.60" fill="#a04060" />
<rect x="77.00" y="358.80" width="15.50" height="2.60" fill="#b8163e" />
<rect x="59.00" y="366.50" width="2.00" height="2.00" fill="#d66" />
<rect x="61.50" y="366.00" width="7.00" height="4.50" fill="#d8d8e0" />
<rect x="75.00" y="366.50" width="18.00" height="0.70" fill="#ccd" />
<rect x="75.00" y="368.00" width="18.00" height="0.70" fill="#dde" />
<rect x="75.00" y="369.50" width="18.00" height="0.70" fill="#ccd" />
<text x="70.30" y="381.20" font-size="6.20" fill="#3b7ab6" textLength="12.30" lengthAdjust="spacingAndGlyphs">View</text>
<text x="114.00" y="408.30" font-size="11.50" fill="#3a3a3a" textLength="13.00" lengthAdjust="spacingAndGlyphs">10</text>
<path d="M134.00 403.20l1.8 2.1h-1.1v2.5h-1.4v-2.5h-1.1z" fill="#2f6a18" />
<text x="114.00" y="415.80" font-size="5.00" fill="#8e8e8e">Organic Entrances</text>
<text x="167.00" y="408.30" font-size="11.50" fill="#3a3a3a" textLength="13.60" lengthAdjust="spacingAndGlyphs">20</text>
<path d="M186.60 403.20l1.8 2.1h-1.1v2.5h-1.4v-2.5h-1.1z" fill="#2f6a18" />
<text x="167.00" y="415.80" font-size="5.00" fill="#8e8e8e">Social Entrances</text>
<text x="220.00" y="408.30" font-size="11.50" fill="#3a3a3a" textLength="13.00" lengthAdjust="spacingAndGlyphs">20</text>
<path d="M239.60 407.80l1.8-2.1h-1.1v-2.5h-1.4v2.5h-1.1z" fill="#7a0c2c" />
<text x="220.00" y="415.80" font-size="5.00" fill="#8e8e8e">Referral Entrances</text>
<text x="273.00" y="408.30" font-size="11.50" fill="#3a3a3a" textLength="13.00" lengthAdjust="spacingAndGlyphs">20</text>
<path d="M292.00 403.20l1.8 2.1h-1.1v2.5h-1.4v-2.5h-1.1z" fill="#2f6a18" />
<text x="273.00" y="415.80" font-size="5.00" fill="#8e8e8e">Email Referrals</text>
<text x="391.00" y="408.30" font-size="11.50" fill="#3a3a3a" textLength="21.00" lengthAdjust="spacingAndGlyphs">100</text>
<path d="M418.40 407.80l1.8-2.1h-1.1v-2.5h-1.4v2.5h-1.1z" fill="#7a0c2c" />
<text x="391.00" y="415.80" font-size="5.00" fill="#8e8e8e">Social Page Signals</text>
<text x="444.00" y="408.30" font-size="11.50" fill="#3a3a3a" textLength="33.40" lengthAdjust="spacingAndGlyphs">12009</text>
<path d="M484.00 403.20l1.8 2.1h-1.1v2.5h-1.4v-2.5h-1.1z" fill="#2f6a18" />
<text x="444.00" y="415.80" font-size="5.00" fill="#8e8e8e">Backlinks</text>
<text x="114.00" y="431.50" font-size="11.50" fill="#3a3a3a" textLength="13.40" lengthAdjust="spacingAndGlyphs">30</text>
<path d="M134.00 426.40l1.8 2.1h-1.1v2.5h-1.4v-2.5h-1.1z" fill="#2f6a18" />
<text x="114.00" y="439.00" font-size="5.00" fill="#8e8e8e">Organic</text>
<text x="114.00" y="448.00" font-size="5.00" fill="#8e8e8e">Conversions</text>
<text x="167.00" y="431.50" font-size="11.50" fill="#3a3a3a" textLength="6.60" lengthAdjust="spacingAndGlyphs">5</text>
<path d="M180.00 431.00l1.8-2.1h-1.1v-2.5h-1.4v2.5h-1.1z" fill="#7a0c2c" />
<text x="167.00" y="439.00" font-size="5.00" fill="#8e8e8e">Social Conversions</text>
<text x="217.60" y="431.50" font-size="11.50" fill="#3a3a3a" textLength="6.00" lengthAdjust="spacingAndGlyphs">5</text>
<path d="M230.00 426.40l1.8 2.1h-1.1v2.5h-1.4v-2.5h-1.1z" fill="#2f6a18" />
<text x="217.60" y="439.00" font-size="5.00" fill="#8e8e8e">Referral Conversions</text>
<text x="271.60" y="431.50" font-size="11.50" fill="#3a3a3a" textLength="6.00" lengthAdjust="spacingAndGlyphs">5</text>
<path d="M284.40 431.00l1.8-2.1h-1.1v-2.5h-1.4v2.5h-1.1z" fill="#7a0c2c" />
<text x="271.60" y="439.00" font-size="5.00" fill="#8e8e8e">Email Conversions</text>
<rect x="58.40" y="405.00" width="35.80" height="29.00" fill="#fafafa" />
<rect x="58.60" y="405.40" width="4.50" height="1.30" fill="#c8184a" />
<rect x="85.00" y="405.60" width="8.00" height="0.70" fill="#e0a0b0" />
<rect x="58.40" y="407.60" width="35.80" height="0.80" fill="#d04a78" />
<rect x="58.40" y="408.40" width="35.80" height="14.00" fill="#111" />
<rect x="62.30" y="422.30" width="31.20" height="1.30" fill="#c42454" />
<path d="M60.5 413.0l9-1.5v4l-9 1.5z" fill="#e8e8e8" />
<path d="M63.5 417.0l9-1.5v4l-9 1.5z" fill="#f4f4f4" />
<rect x="76.50" y="411.80" width="16.00" height="0.80" fill="#999" />
<rect x="77.50" y="414.30" width="14.00" height="0.80" fill="#888" />
<rect x="78.00" y="416.50" width="13.00" height="0.60" fill="#a04060" />
<rect x="77.00" y="418.80" width="15.50" height="2.60" fill="#b8163e" />
<rect x="59.00" y="426.50" width="2.00" height="2.00" fill="#d66" />
<rect x="61.50" y="426.00" width="7.00" height="4.50" fill="#d8d8e0" />
<rect x="75.00" y="426.50" width="18.00" height="0.70" fill="#ccd" />
<rect x="75.00" y="428.00" width="18.00" height="0.70" fill="#dde" />
<rect x="75.00" y="429.50" width="18.00" height="0.70" fill="#ccd" />
<text x="70.30" y="441.20" font-size="6.20" fill="#3b7ab6" textLength="12.30" lengthAdjust="spacingAndGlyphs">View</text>
<g transform="translate(543.5 339.5) scale(.42)"><path d="M12 1.5l3.2 7 7.6.8-5.7 5.1 1.6 7.5L12 18.1 5.3 21.9l1.6-7.5L1.2 9.3l7.6-.8z" fill="url(#sg)" stroke="#d68a28" stroke-width="1"/></g>
<g transform="translate(543.5 399.5) scale(.42)"><path d="M12 1.5l3.2 7 7.6.8-5.7 5.1 1.6 7.5L12 18.1 5.3 21.9l1.6-7.5L1.2 9.3l7.6-.8z" fill="none" stroke="#c6c6c6" stroke-width="1.6"/></g>
<rect x="568.30" y="56.80" width="6.70" height="396.40" fill="#f6f6f6" />
<rect x="568.30" y="56.80" width="0.60" height="396.40" fill="#e2e2e2" />
<rect x="570.00" y="58.50" width="3.20" height="344.00" fill="#c2c2c2" rx="1.6"/>
</svg>
</body></html>
